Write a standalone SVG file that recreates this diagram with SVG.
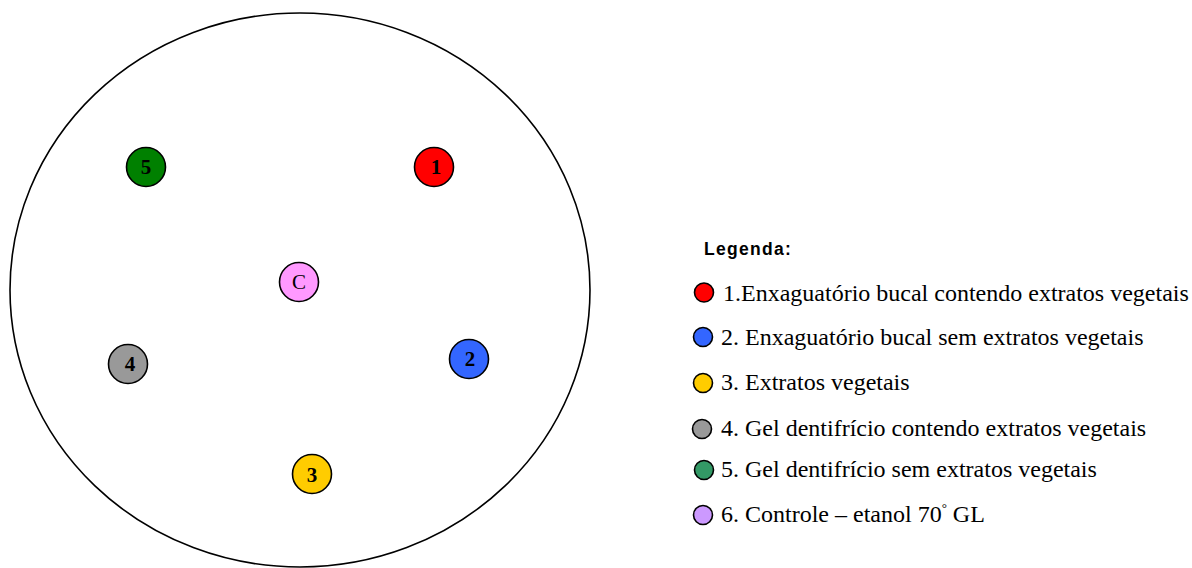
<svg xmlns="http://www.w3.org/2000/svg" width="1192" height="568" viewBox="0 0 1192 568">
<style>
.dot{stroke:#000;stroke-width:1.6}
.num{font-family:"Liberation Serif",serif;font-weight:bold;font-size:21px;text-anchor:middle;fill:#000}
.leg{font-family:"Liberation Serif",serif;font-size:24px;fill:#000}
.ld{stroke:#000;stroke-width:1.6}
.title{font-family:"Liberation Sans",Arial,sans-serif;font-weight:bold;font-size:17.5px;letter-spacing:1.3px;fill:#000}
</style>
<rect width="1192" height="568" fill="#fff"/>
<g id="plate"><ellipse cx="300" cy="290" rx="290" ry="277" fill="none" stroke="#000" stroke-width="1.6"/></g>
<g id="node5"><circle class="dot" cx="146" cy="167" r="19.5" fill="#008000"/><text class="num" x="146" y="174">5</text></g>
<g id="node1"><circle class="dot" cx="434" cy="167" r="19.5" fill="#ff0000"/><text class="num" x="436" y="174">1</text></g>
<g id="nodeC"><circle class="dot" cx="299" cy="282" r="19.5" fill="#ff99ff"/><text class="num" x="299" y="289" style="font-weight:normal">C</text></g>
<g id="node4"><circle class="dot" cx="128" cy="364" r="19.5" fill="#999999"/><text class="num" x="130" y="371">4</text></g>
<g id="node2"><circle class="dot" cx="469" cy="359" r="19.5" fill="#3366ff"/><text class="num" x="470" y="366">2</text></g>
<g id="node3"><circle class="dot" cx="312" cy="474" r="19.5" fill="#ffcc00"/><text class="num" x="312" y="482">3</text></g>
<g id="connectors"></g>
<g id="legend">
<text class="title" x="704" y="255">Legenda:</text>
<circle class="ld" cx="704" cy="292.5" r="9.5" fill="#ff0000"/>
<text class="leg" x="723" y="301">1.Enxaguatório bucal contendo extratos vegetais</text>
<circle class="ld" cx="703" cy="337" r="9.5" fill="#3366ff"/>
<text class="leg" x="721" y="345">2. Enxaguatório bucal sem extratos vegetais</text>
<circle class="ld" cx="703" cy="383" r="9.5" fill="#ffcc00"/>
<text class="leg" x="721" y="390">3. Extratos vegetais</text>
<circle class="ld" cx="702" cy="429" r="9.5" fill="#999999"/>
<text class="leg" x="721" y="436">4. Gel dentifrício contendo extratos vegetais</text>
<circle class="ld" cx="704" cy="470" r="9.5" fill="#339966"/>
<text class="leg" x="721" y="477">5. Gel dentifrício sem extratos vegetais</text>
<circle class="ld" cx="703" cy="515" r="9.5" fill="#cc99ff"/>
<text class="leg" x="721" y="522">6. Controle – etanol 70<tspan font-size="13" dy="-10">°</tspan><tspan dy="10"> GL</tspan></text>
</g>
</svg>
